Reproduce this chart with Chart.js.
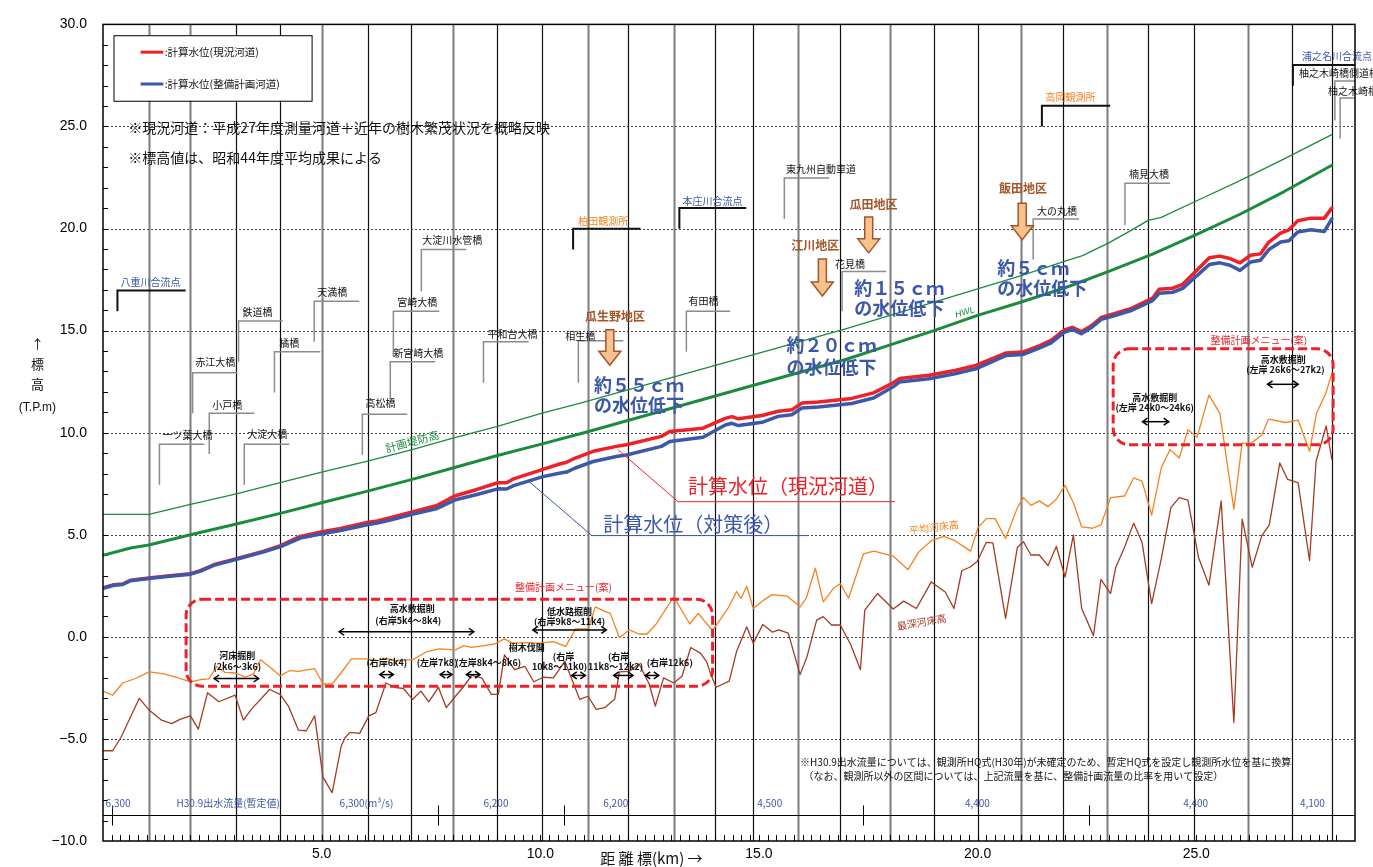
<!DOCTYPE html>
<html lang="ja">
<head>
<meta charset="utf-8">
<title>計算水位縦断図</title>
<script src="https://cdn.jsdelivr.net/npm/chart.js@4.4.1/dist/chart.umd.min.js"></script>
<style>
  html, body { margin: 0; padding: 0; background: #fff; }
  #wrap { width: 1373px; height: 867px; }
</style>
</head>
<body>
<div id="wrap"><canvas id="chart" width="1373" height="867"></canvas></div>
<script>
// 計算水位 (現況河道 / 整備計画河道)
const wlKm = [0, 0.25, 0.45, 0.63, 1.05, 1.47, 2.0, 2.23, 2.53, 3.03, 3.68, 4.06, 4.51, 5.01, 5.43, 6.04, 6.27, 6.57, 7.07, 7.64,
  8.04, 8.55, 9.03, 9.23, 9.39, 10.06, 10.46, 10.6, 10.8, 11.21, 11.74, 11.97, 12.77, 12.96, 13.72, 14.23, 14.38, 14.53, 15.07, 15.44,
  15.75, 15.98, 16.36, 17.12, 17.62, 18.07, 18.21, 18.89, 19.48, 19.96, 20.64, 21.03, 21.42, 21.68, 21.98, 22.17, 22.37, 22.6, 22.83, 23.14,
  23.53, 24.0, 24.15, 24.46, 24.69, 25.3, 25.54, 25.77, 26.0, 26.24, 26.47, 26.66, 26.93, 27.12, 27.32, 27.62, 27.93, 28.1];
const wlNow = [2.40, 2.55, 2.59, 2.77, 2.88, 2.98, 3.09, 3.24, 3.53, 3.82, 4.20, 4.47, 4.92, 5.15, 5.31, 5.60, 5.68, 5.84, 6.12, 6.44,
  6.90, 7.22, 7.55, 7.55, 7.74, 8.20, 8.48, 8.55, 8.76, 9.09, 9.33, 9.41, 9.82, 10.06, 10.22, 10.70, 10.79, 10.68, 10.84, 11.05,
  11.12, 11.45, 11.50, 11.68, 11.95, 12.45, 12.65, 12.81, 13.05, 13.30, 13.90, 13.95, 14.27, 14.52, 15.03, 15.16, 14.95, 15.24, 15.65, 15.84,
  16.10, 16.59, 17.03, 17.08, 17.27, 18.57, 18.65, 18.53, 18.32, 18.69, 18.76, 19.34, 19.78, 19.94, 20.38, 20.51, 20.51, 21.00];
const wlPlan = [2.38, 2.53, 2.57, 2.75, 2.86, 2.96, 3.07, 3.22, 3.50, 3.79, 4.16, 4.42, 4.84, 5.05, 5.21, 5.49, 5.57, 5.72, 6.00, 6.29,
  6.70, 6.97, 7.25, 7.24, 7.41, 7.85, 8.03, 8.07, 8.27, 8.59, 8.83, 8.91, 9.33, 9.57, 9.78, 10.38, 10.46, 10.35, 10.51, 10.80,
  10.88, 11.21, 11.26, 11.43, 11.70, 12.25, 12.48, 12.64, 12.88, 13.13, 13.78, 13.83, 14.15, 14.40, 14.91, 15.06, 14.85, 15.14, 15.55, 15.74,
  16.00, 16.47, 16.83, 16.88, 17.07, 18.24, 18.32, 18.20, 17.95, 18.36, 18.45, 18.97, 19.34, 19.40, 19.83, 19.94, 19.86, 20.47];

// 計画堤防高
const dikeKm = [0, 1.05, 2.0, 3.05, 4.05, 5.0, 6.05, 7.05, 8.0, 9.0, 10.0, 11.0, 12.0, 13.0, 14.0, 15.0, 16.0, 17.0, 18.0, 19.0,
  20.0, 21.0, 22.0, 22.4, 23.0, 23.5, 23.9, 24.2, 25.0, 26.0, 27.0, 28.1];
const dikeHeight = [6.0, 6.0, 6.49, 7.0, 7.55, 8.07, 8.61, 9.16, 9.73, 10.3, 10.93, 11.5, 12.1, 12.7, 13.3, 13.9, 14.5, 15.1, 15.75, 16.4,
  17.05, 17.7, 18.4, 18.67, 19.3, 19.9, 20.4, 20.55, 21.35, 22.35, 23.4, 24.6];

// HWL
const hwlKm = [0, 0.63, 1.05, 2.0, 3.05, 4.05, 5.0, 6.05, 7.05, 8.0, 9.0, 10.0, 11.0, 12.0, 13.0, 14.0, 15.0, 16.0, 17.0, 18.0,
  19.0, 20.0, 21.0, 22.0, 23.0, 24.0, 25.0, 26.0, 27.0, 28.1];
const hwl = [4.0, 4.35, 4.5, 5.0, 5.53, 6.05, 6.57, 7.14, 7.7, 8.27, 8.87, 9.43, 10.0, 10.6, 11.2, 11.8, 12.4, 13.0, 13.6, 14.3,
  15.0, 15.75, 16.4, 17.1, 17.9, 18.75, 19.7, 20.7, 21.8, 23.1];

// 平均河床高
const bedKm = [0, 0.22, 0.45, 0.74, 1.06, 1.39, 1.72, 2.0, 2.23, 2.42, 2.6, 2.79, 3.02, 3.26, 3.44, 3.61, 3.86, 4.05, 4.28, 4.47,
  4.84, 5.03, 5.24, 5.54, 5.68, 6.01, 6.29, 6.47, 6.66, 7.08, 7.41, 7.69, 8.06, 8.25, 8.43, 8.71, 8.95, 9.18, 9.36, 9.74,
  9.97, 10.3, 10.58, 10.81, 11.09, 11.26, 11.46, 11.6, 11.81, 12.03, 12.26, 12.44, 12.65, 13.05, 13.42, 13.61, 13.94, 14.29, 14.49, 14.59,
  14.72, 14.87, 15.11, 15.3, 15.65, 15.94, 16.08, 16.29, 16.47, 16.71, 16.86, 17.05, 17.39, 17.63, 18.07, 18.41, 18.65, 18.94, 19.23, 19.48,
  19.84, 20.01, 20.2, 20.4, 20.64, 20.91, 21.05, 21.22, 21.41, 21.61, 21.8, 22.0, 22.19, 22.38, 22.63, 22.82, 23.04, 23.36, 23.57, 23.76,
  23.98, 24.2, 24.4, 24.61, 24.81, 25.02, 25.29, 25.54, 25.86, 26.05, 26.26, 26.5, 26.65, 27.04, 27.33, 27.59, 27.75, 27.96, 28.1];
const bedAvg = [-2.66, -2.86, -2.26, -2.04, -1.72, -1.81, -2.01, -2.2, -2.09, -2.06, -1.45, -1.74, -1.77, -1.97, -1.81, -1.12, -1.56, -1.9, -1.65, -1.69,
  -1.56, -2.31, -2.31, -1.5, -1.08, -1.08, -1.17, -1.04, -1.17, -1.12, -0.72, -0.59, -0.64, -0.43, -0.52, -0.43, -0.35, -0.1, -0.31, -0.28,
  -0.31, -0.23, -0.47, 0.39, 0.39, 1.47, 1.26, 1.15, -0.04, 0.34, 0.14, 0.14, 0.63, 1.96, 0.63, 1.15, 0.3, 1.39, 2.22, 1.88,
  2.48, 1.39, 1.8, 2.07, 1.99, 1.47, 1.88, 3.37, 1.71, 2.39, 2.6, 1.9, 4.06, 4.2, 3.96, 3.29, 4.15, 4.71, 4.92, 4.71,
  4.2, 5.36, 5.79, 5.79, 4.82, 6.33, 6.82, 6.44, 6.66, 6.38, 6.74, 7.42, 6.57, 5.39, 5.32, 5.48, 6.82, 6.9, 7.79, 7.63,
  5.96, 8.28, 9.17, 8.76, 10.14, 9.78, 11.84, 10.95, 6.25, 9.49, 9.49, 9.89, 10.66, 10.5, 10.62, 9.09, 10.95, 11.92, 12.89];

// 最深河床高
const deepKm = [0, 0.22, 0.41, 0.83, 1.06, 1.34, 1.57, 1.76, 2.0, 2.18, 2.39, 2.65, 3.02, 3.21, 3.39, 3.81, 4.05, 4.24, 4.47, 4.65,
  4.84, 5.03, 5.24, 5.45, 5.54, 5.65, 5.87, 6.08, 6.24, 6.47, 6.66, 6.87, 7.08, 7.27, 7.45, 7.67, 7.85, 8.06, 8.25, 8.43,
  8.66, 8.88, 9.04, 9.18, 9.41, 9.65, 9.85, 10.07, 10.3, 10.56, 10.9, 11.09, 11.28, 11.47, 11.7, 11.81, 12.03, 12.26, 12.49, 12.63,
  12.82, 13.05, 13.24, 13.44, 13.66, 13.8, 13.9, 14.02, 14.32, 14.49, 14.72, 14.87, 15.09, 15.31, 15.45, 15.67, 15.94, 16.1, 16.32, 16.47,
  16.66, 16.86, 17.1, 17.32, 17.42, 17.71, 18.07, 18.31, 18.6, 18.94, 19.26, 19.46, 19.64, 19.82, 19.99, 20.2, 20.35, 20.64, 20.91, 21.05,
  21.22, 21.41, 21.61, 21.8, 22.0, 22.19, 22.38, 22.65, 22.82, 23.04, 23.16, 23.36, 23.57, 23.76, 23.98, 24.2, 24.42, 24.61, 24.81, 25.05,
  25.29, 25.57, 25.86, 26.05, 26.28, 26.5, 26.67, 26.91, 27.09, 27.33, 27.59, 27.74, 27.97, 28.1];
const bedDeep = [-5.58, -5.58, -4.93, -3.01, -3.6, -4.08, -4.25, -4.04, -3.87, -4.52, -2.74, -3.18, -2.85, -4.08, -3.55, -2.58, -2.82, -3.39, -4.57, -4.6,
  -3.87, -6.87, -7.63, -5.33, -4.93, -4.68, -4.73, -3.87, -3.71, -2.26, -2.47, -2.53, -3.06, -2.66, -3.18, -2.47, -3.47, -2.91, -2.42, -1.89,
  -2.01, -2.82, -2.82, -0.88, -1.61, -1.45, -2.2, -1.98, -2.01, -1.2, -3.06, -2.91, -3.55, -3.47, -3.06, -1.72, -1.69, -1.33, -2.31, -3.39,
  -2.01, -2.26, -1.93, -0.52, -0.8, -1.2, -1.85, -2.47, -2.17, -0.7, 0.49, -0.31, 0.61, 0.23, 0.34, 0.18, -1.85, -0.96, 0.82, 0.99,
  0.58, 0.58, -0.39, -1.61, 1.31, 2.12, 1.36, 1.75, 1.39, 2.69, 2.2, 1.39, 3.25, 3.41, 3.69, 4.63, 4.6, 0.9, 4.39, 4.66,
  4.01, 4.01, 3.49, 4.43, 2.93, 4.98, 1.39, 0.06, 2.81, 2.12, 3.41, 4.39, 5.57, 4.63, 1.63, 3.82, 6.33, 6.82, 6.7, 3.9,
  2.53, 6.66, -4.2, 5.77, 3.41, 4.96, 5.48, 8.52, 7.71, 7.55, 3.74, 8.6, 10.33, 8.7];

// 軸
const xTicks = [5, 10, 15, 20, 25];
const yTicks = [-10, -5, 0, 5, 10, 15, 20, 25, 30];

// 区間の縦線 (km) と 1 = 黒線
const sectionKm = [1.05, 2.0, 3.05, 4.05, 5.0, 6.05, 7.05, 8.0, 9.0, 10.05, 11.1, 12.0, 13.05, 14.0, 14.87, 15.9, 16.85, 18.0, 19.0, 20.0,
  21.0, 21.95, 22.95, 23.9, 24.95, 26.18, 27.2, 28.1];
const sectionDark = [0, 0, 1, 1, 0, 1, 1, 0, 1, 1, 0, 1, 0, 1, 1, 0, 1, 0, 1, 1, 0, 1, 0, 1, 1, 0, 1, 1];

// 流量区間
const flowLabels = [['6,300', 0.06], ['H30.9出水流量(暫定値)', 1.68], ['6,300(m³/s)', 5.41], ['6,200', 8.7], ['6,200', 11.44],
  ['4,500', 14.96], ['4,400', 19.71], ['4,400', 24.7], ['4,100', 27.37]];
const flowBreaks = [0.2, 7.65, 10.55, 17.37, 22.55];

// 橋梁: 名称, 文字km, 文字m, 線m, 線km1, 線km2, 下端m
const bridges = [
  ['鉄道橋', 3.19, 15.91, 15.47, 3.10, 4.11, 13.47],
  ['天満橋', 4.90, 16.88, 16.44, 4.83, 5.86, 14.45],
  ['大淀川水管橋', 7.30, 19.45, 18.97, 7.28, 8.31, 16.93],
  ['宮崎大橋', 6.73, 16.39, 15.95, 6.64, 7.69, 13.72],
  ['橘橋', 4.03, 14.40, 13.96, 3.92, 4.97, 11.97],
  ['新宮崎大橋', 6.64, 13.91, 13.47, 6.57, 7.60, 11.68],
  ['平和台大橋', 8.79, 14.84, 14.45, 8.70, 9.73, 12.45],
  ['赤江大橋', 2.11, 13.43, 12.94, 2.05, 3.07, 10.95],
  ['小戸橋', 2.50, 11.34, 10.95, 2.43, 3.46, 8.96],
  ['高松橋', 6.0, 11.43, 10.90, 5.93, 6.96, 8.91],
  ['一ツ葉大橋', 1.36, 9.88, 9.44, 1.29, 2.32, 7.45],
  ['大淀大橋', 3.30, 9.93, 9.44, 3.23, 4.26, 7.45],
  ['東九州自動車道', 15.62, 22.90, 22.47, 15.58, 16.61, 20.47],
  ['有田橋', 13.39, 16.44, 15.95, 13.34, 14.34, 13.96],
  ['相生橋', 10.57, 14.74, 14.50, 10.87, 11.90, 12.45],
  ['花見橋', 16.74, 18.24, 17.90, 16.9, 17.91, 15.95],
  ['大の丸橋', 21.36, 20.86, 20.47, 21.27, 22.32, 18.48],
  ['楠見大橋', 23.46, 22.66, 22.22, 23.37, 24.40, 20.18],
  ['柚之木崎橋側道橋', 27.35, 27.62, 27.23, 28.17, 28.63, 25.29],
  ['柚之木崎橋', 28.01, 26.74, 26.40, 28.29, 28.63, 24.41]
];

// 合流点・観測所
const stations = [
  ['八重川合流点', 'blue', 0.40, 17.36, 16.97, 0.33, 1.89, 15.95],
  ['柏田観測所', 'orange', 10.87, 20.38, 19.99, 10.75, 12.29, 18.97],
  ['本庄川合流点', 'blue', 13.25, 21.35, 21.01, 13.18, 14.71, 19.99],
  ['高岡観測所', 'orange', 21.55, 26.42, 26.01, 21.47, 23.03, 25.0],
  ['浦之名川合流点', 'blue', 27.42, 28.44, 28.01, 27.21, 28.63, 26.99]
];

// 地区と矢印
const districts = [
  ['瓜生野地区', 11.71, 15.68, 11.59, 15.04, 13.30],
  ['江川地区', 16.29, 19.18, 16.45, 18.51, 16.70],
  ['瓜田地区', 17.62, 21.19, 17.51, 20.56, 18.81],
  ['飯田地区', 21.04, 21.97, 21.02, 21.24, 19.45]
];
const drops = [
  ['約５５ｃｍ', 11.23, 12.32, 11.34],
  ['約２０ｃｍ', 15.63, 14.27, 13.22],
  ['約１５ｃｍ', 17.18, 17.07, 16.10],
  ['約５ｃｍ', 20.45, 18.08, 17.07]
];

// 整備計画メニュー
const menuBoxes = [[1.90, 13.94, 1.84, -2.42, 10.53, 2.44], [23.10, 28.13, 14.11, 9.41, 26.43, 14.54]];
const menuTexts = [
  ['高水敷掘削', 7.07, 1.39], ['(右岸5k4～8k4)', 6.98, 0.82],
  ['低水路掘削', 10.67, 1.26], ['(右岸9k8～11k4)', 10.67, 0.77],
  ['樹木伐開', 9.69, -0.52],
  ['河床掘削', 3.07, -0.91], ['(2k6～3k6)', 3.07, -1.45],
  ['(右岸6k4)', 6.49, -1.25], ['(左岸7k8)', 7.64, -1.25], ['(左岸8k4～8k6)', 8.81, -1.25],
  ['(右岸', 10.53, -0.96], ['10k8～11k0)', 10.44, -1.45],
  ['(右岸', 11.79, -0.96], ['11k8～12k2)', 11.72, -1.45],
  ['(右岸12k6)', 12.96, -1.25],
  ['高水敷掘削', 26.99, 13.57], ['(左岸 26k6～27k2)', 27.04, 13.09],
  ['高水敷掘削', 24.05, 11.71], ['(左岸 24k0～24k6)', 24.05, 11.21]
];
const menuArrows = [[5.40, 8.48, 0.25], [9.83, 11.51, 0.34], [2.54, 3.56, -2.04], [6.33, 6.64, -1.85], [7.71, 7.98, -1.85],
  [8.31, 8.62, -1.85], [10.72, 11.03, -1.89], [11.68, 12.12, -1.89], [12.40, 12.71, -1.89], [26.63, 27.33, 12.37], [23.77, 24.37, 10.54]];

const C = {
  red: '#ee2128', blue: '#3c58a8', green: '#1b8b3d', orange: '#f5821f', brown: '#a33c20',
  gray: '#8c8c8c', district: '#a5552a', peach: '#f8c28e'
};
const JP = '"Noto Sans CJK JP", "Noto Sans", sans-serif';
const NUM = '"Liberation Sans", Arial, sans-serif';

const toPoints = (xs, ys) => xs.map((x, i) => ({ x, y: ys[i] }));

// 補助描画
function pos(chart, km, m) {
  return [chart.scales.x.getPixelForValue(km), chart.scales.y.getPixelForValue(m)];
}

function text(ctx, chart, str, km, m, font, color, align = 'left', angle = 0) {
  const [x, y] = pos(chart, km, m);
  ctx.save();
  ctx.translate(x, y);
  if (angle) ctx.rotate(angle * Math.PI / 180);
  ctx.font = font;
  ctx.fillStyle = color;
  ctx.textAlign = align;
  ctx.textBaseline = 'middle';
  ctx.fillText(str, 0, 0);
  ctx.restore();
}

function line(ctx, pts, color, width, dash = []) {
  ctx.save();
  ctx.strokeStyle = color;
  ctx.lineWidth = width;
  ctx.setLineDash(dash);
  ctx.beginPath();
  pts.forEach(([x, y], i) => (i ? ctx.lineTo(x, y) : ctx.moveTo(x, y)));
  ctx.stroke();
  ctx.restore();
}

function doubleArrow(ctx, x1, x2, y) {
  line(ctx, [[x1, y], [x2, y]], '#000', 1.5);
  line(ctx, [[x1 + 5, y - 3.5], [x1, y], [x1 + 5, y + 3.5]], '#000', 1.5);
  line(ctx, [[x2 - 5, y - 3.5], [x2, y], [x2 - 5, y + 3.5]], '#000', 1.5);
}

function downArrow(ctx, x, y0, y1) {
  const sw = 4, hw = 11, hl = 14;
  ctx.save();
  ctx.beginPath();
  ctx.moveTo(x - sw, y0);
  ctx.lineTo(x + sw, y0);
  ctx.lineTo(x + sw, y1 - hl);
  ctx.lineTo(x + hw, y1 - hl);
  ctx.lineTo(x, y1);
  ctx.lineTo(x - hw, y1 - hl);
  ctx.lineTo(x - sw, y1 - hl);
  ctx.closePath();
  ctx.fillStyle = C.peach;
  ctx.fill();
  ctx.strokeStyle = C.district;
  ctx.lineWidth = 1.5;
  ctx.stroke();
  ctx.restore();
}

const decorations = {
  id: 'decorations',
  beforeDraw(chart) {
    const ctx = chart.ctx;
    ctx.save();
    ctx.fillStyle = '#fff';
    ctx.fillRect(0, 0, chart.width, chart.height);
    ctx.restore();
  },
  beforeDatasetsDraw(chart) {
    const ctx = chart.ctx;
    const { left, right, top, bottom } = chart.chartArea;
    const sx = chart.scales.x, sy = chart.scales.y;

    // 横の破線
    [25, 20, 15, 10, 5, 0, -5].forEach(v => {
      const y = Math.round(sy.getPixelForValue(v)) + 0.5;
      line(ctx, [[left, y], [right, y]], '#444', 1, [2, 2]);
    });

    // 区間の縦線
    sectionKm.forEach((km, i) => {
      const x = Math.round(sx.getPixelForValue(km)) + 0.5;
      if (sectionDark[i]) line(ctx, [[x, top], [x, bottom]], '#111', 1.2);
      else line(ctx, [[x, top], [x, bottom]], '#7d7d7d', 2);
    });

    // 左の小目盛
    for (let v = -9; v < 30; v++) {
      const y = Math.round(sy.getPixelForValue(v)) + 0.5;
      line(ctx, [[left, y], [left + 5, y]], '#000', 1);
    }

    // 流量帯
    const yStrip = Math.round(sy.getPixelForValue(-8.74)) + 0.5;
    line(ctx, [[left, yStrip], [right, yStrip]], '#000', 1);
    flowBreaks.forEach(km => {
      const x = Math.round(sx.getPixelForValue(km)) + 0.5;
      line(ctx, [[x, yStrip - 10], [x, yStrip + 10]], '#000', 1);
    });
    for (let km = 0.2; km < 28.2; km += 0.2) {
      const x = Math.round(sx.getPixelForValue(km)) + 0.5;
      line(ctx, [[x, bottom - 6], [x, bottom]], '#000', 1);
    }
  },
  afterDatasetsDraw(chart) {
    const ctx = chart.ctx;
    const { left, right, top, bottom } = chart.chartArea;

    // 流量
    flowLabels.forEach(([s, km]) => text(ctx, chart, s, km, -8.15, '10px ' + JP, C.blue));
    text(ctx, chart, '※H30.9出水流量については、観測所HQ式(H30年)が未確定のため、暫定HQ式を設定し観測所水位を基に換算', 15.94, -6.16, '10px ' + JP, '#111');
    text(ctx, chart, '（なお、観測所以外の区間については、上記流量を基に、整備計画流量の比率を用いて設定）', 16.02, -6.84, '10px ' + JP, '#111');

    // 橋梁
    bridges.forEach(([name, tk, tm, lm, k1, k2, bm]) => {
      const [x1, yl] = pos(chart, k1, lm);
      const [x2] = pos(chart, k2, lm);
      const [, yb] = pos(chart, k1, bm);
      line(ctx, [[x1, yb], [x1, yl], [x2, yl]], C.gray, 1.5);
      text(ctx, chart, name, tk, tm, '10px ' + JP, '#111');
    });
    stations.forEach(([name, col, tk, tm, lm, k1, k2, bm]) => {
      const [x1, yl] = pos(chart, k1, lm);
      const [x2] = pos(chart, k2, lm);
      const [, yb] = pos(chart, k1, bm);
      line(ctx, [[x1, yb], [x1, yl], [x2, yl]], '#111', 2);
      text(ctx, chart, name, tk, tm, '10px ' + JP, C[col]);
    });

    // 地区と水位低下量
    districts.forEach(([name, tk, tm, ak, a0, a1]) => {
      text(ctx, chart, name, tk, tm, 'bold 12px ' + JP, C.district, 'center');
      const [x, y0] = pos(chart, ak, a0);
      const [, y1] = pos(chart, ak, a1);
      downArrow(ctx, x, y0, y1);
    });
    drops.forEach(([s, km, m1, m2]) => {
      text(ctx, chart, s, km, m1, 'bold 18px ' + JP, C.blue);
      text(ctx, chart, 'の水位低下', km, m2, 'bold 18px ' + JP, C.blue);
    });

    // 大きなラベル
    text(ctx, chart, '計算水位（現況河道）', 13.38, 7.38, '20px ' + JP, C.red);
    line(ctx, [pos(chart, 11.78, 9.16), pos(chart, 13.15, 6.62), pos(chart, 18.11, 6.62)], C.red, 1);
    text(ctx, chart, '計算水位（対策後）', 11.44, 5.52, '20px ' + JP, C.blue);
    line(ctx, [pos(chart, 9.73, 7.63), pos(chart, 11.18, 4.96), pos(chart, 16.13, 4.96)], C.blue, 1);

    text(ctx, chart, '計画堤防高', 7.07, 9.57, '11px ' + JP, C.green, 'center', -15);
    text(ctx, chart, 'HWL', 19.71, 15.89, 'italic 9px ' + NUM, C.green, 'center', -17);
    text(ctx, chart, '平均河床高', 19.0, 5.36, '10px ' + JP, C.orange, 'center', -7);
    text(ctx, chart, '最深河床高', 18.72, 0.72, '10px ' + JP, C.brown, 'center', -10);

    // 整備計画メニュー
    menuBoxes.forEach(([k1, k2, m1, m2, lk, lm]) => {
      const [x1, y1] = pos(chart, k1, m1);
      const [x2, y2] = pos(chart, k2, m2);
      ctx.save();
      ctx.strokeStyle = C.red;
      ctx.lineWidth = 3;
      ctx.setLineDash([9, 4]);
      ctx.beginPath();
      ctx.roundRect(x1, y1, x2 - x1, y2 - y1, 16);
      ctx.stroke();
      ctx.restore();
      text(ctx, chart, '整備計画メニュー(案)', lk, lm, '10px ' + JP, C.red, 'center');
    });
    menuTexts.forEach(([s, km, m]) => text(ctx, chart, s, km, m, 'bold 9px ' + JP, '#111', 'center'));
    menuArrows.forEach(([k1, k2, m]) => {
      const [x1, y] = pos(chart, k1, m);
      const [x2] = pos(chart, k2, m);
      doubleArrow(ctx, x1, x2, y);
    });

    // 凡例
    const [bx1, by1] = pos(chart, 0.24, 29.47);
    const [bx2, by2] = pos(chart, 4.77, 26.26);
    ctx.save();
    ctx.fillStyle = '#fff';
    ctx.fillRect(bx1, by1, bx2 - bx1, by2 - by1);
    ctx.strokeStyle = '#000';
    ctx.lineWidth = 1;
    ctx.strokeRect(bx1 + 0.5, by1 + 0.5, bx2 - bx1, by2 - by1);
    ctx.restore();
    line(ctx, [pos(chart, 0.86, 28.64), pos(chart, 1.38, 28.64)], C.red, 3);
    text(ctx, chart, ':計算水位(現況河道)', 1.41, 28.64, '10.5px ' + JP, '#111');
    line(ctx, [pos(chart, 0.86, 27.08), pos(chart, 1.38, 27.08)], C.blue, 3);
    text(ctx, chart, ':計算水位(整備計画河道)', 1.41, 27.08, '10.5px ' + JP, '#111');

    text(ctx, chart, '※現況河道：平成27年度測量河道＋近年の樹木繁茂状況を概略反映', 0.58, 24.95, '14px ' + JP, '#111');
    text(ctx, chart, '※標高値は、昭和44年度平均成果による', 0.58, 23.49, '14px ' + JP, '#111');

    // 軸タイトル
    text(ctx, chart, '↑', -1.5, 14.35, '13px ' + JP, '#111', 'center');
    text(ctx, chart, '標', -1.5, 13.38, '13px ' + JP, '#111', 'center');
    text(ctx, chart, '高', -1.5, 12.36, '13px ' + JP, '#111', 'center');
    text(ctx, chart, '(T.P.m)', -1.5, 11.24, '12px ' + NUM, '#111', 'center');
    text(ctx, chart, '距 離 標(km) →', 11.37, -10.83, '15px ' + JP, '#111');

    // 枠
    ctx.save();
    ctx.strokeStyle = '#000';
    ctx.lineWidth = 1.5;
    ctx.strokeRect(left, top, right - left, bottom - top);
    ctx.restore();
  }
};

new Chart(document.getElementById('chart'), {
  type: 'line',
  data: {
    datasets: [
      { label: '計算水位(整備計画河道)', data: toPoints(wlKm, wlPlan), borderColor: C.blue, borderWidth: 3.5, order: 0 },
      { label: '計算水位(現況河道)', data: toPoints(wlKm, wlNow), borderColor: C.red, borderWidth: 3.5, order: 1 },
      { label: '最深河床高', data: toPoints(deepKm, bedDeep), borderColor: C.brown, borderWidth: 1.3, order: 2 },
      { label: '平均河床高', data: toPoints(bedKm, bedAvg), borderColor: C.orange, borderWidth: 1.3, order: 3 },
      { label: 'HWL', data: toPoints(hwlKm, hwl), borderColor: C.green, borderWidth: 3, order: 4 },
      { label: '計画堤防高', data: toPoints(dikeKm, dikeHeight), borderColor: C.green, borderWidth: 1.3, order: 5 }
    ]
  },
  options: {
    responsive: false,
    animation: false,
    devicePixelRatio: 1,
    layout: { padding: { top: 18, right: 18, left: 0, bottom: 0 } },
    elements: { point: { radius: 0 }, line: { tension: 0, borderJoinStyle: 'round', borderCapStyle: 'round' } },
    plugins: { legend: { display: false }, tooltip: { enabled: false } },
    scales: {
      x: {
        type: 'linear',
        min: 0,
        max: 28.63,
        grid: { display: false, drawTicks: false },
        border: { display: false },
        afterBuildTicks: s => { s.ticks = xTicks.map(v => ({ value: v })); },
        afterFit: s => { s.height = 26; },
        ticks: { padding: 5, color: '#000', font: { family: NUM, size: 14 }, callback: v => v.toFixed(1) }
      },
      y: {
        min: -10,
        max: 30,
        grid: { display: false, drawTicks: false },
        border: { display: false },
        afterBuildTicks: s => { s.ticks = yTicks.map(v => ({ value: v })); },
        afterFit: s => { s.width = 103; },
        ticks: {
          padding: 16, color: '#000', font: { family: NUM, size: 14 },
          callback: v => (v < 0 ? '−' + Math.abs(v).toFixed(1) : v.toFixed(1))
        }
      }
    }
  },
  plugins: [decorations]
});
</script>
</body>
</html>
